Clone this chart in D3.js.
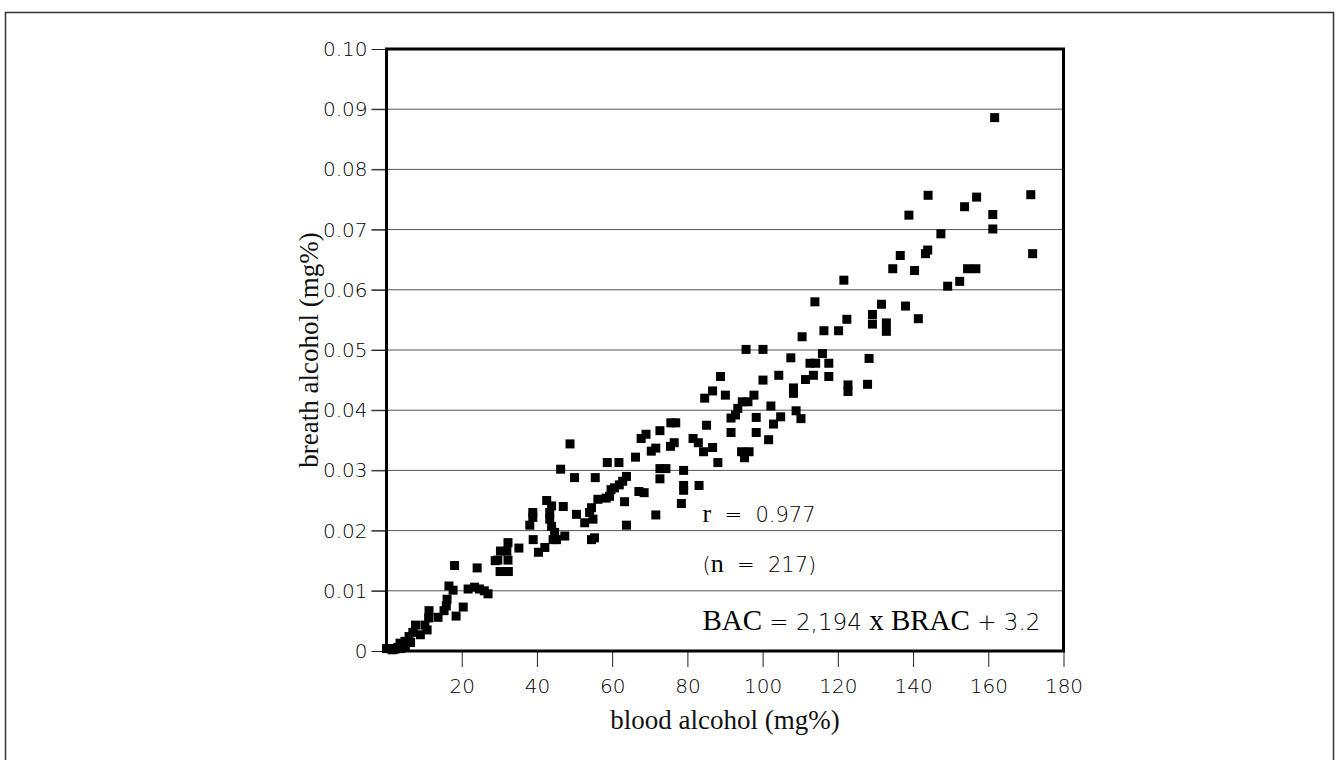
<!DOCTYPE html>
<html>
<head>
<meta charset="utf-8">
<script src="https://cdn.jsdelivr.net/npm/d3@7"></script>
<style>
  body { margin: 0; background: #fff; }
  .tick text { font-family: "DejaVu Sans", sans-serif; font-weight: 200; }
</style>
</head>
<body>
<div class="chart"></div>
<script>

// values: blood alcohol (mg%) and breath alcohol (mg%)
var bloodAlcohol = [161.7,144.0,156.9,171.3,153.7,138.9,161.2,161.2,147.4,143.9,
  143.3,136.6,171.8,134.6,140.4,154.5,156.7,152.4,149.2,121.6,
  113.9,131.6,138.0,129.2,129.2,132.9,132.9,141.4,122.4,110.5,
  116.3,120.2,95.6,100.1,107.5,112.6,114.1,115.9,117.6,128.3,
  127.9,88.8,100.1,104.3,111.4,113.5,117.6,122.7,122.7,108.2,
  108.2,90.1,97.7,94.6,96.1,93.4,102.2,108.9,110.2,91.6,
  92.8,98.3,104.8,102.9,91.6,98.3,101.6,94.4,96.4,95.2,
  88.1,86.7,84.6,85.1,75.6,76.9,72.7,69.0,67.7,70.4,
  71.6,75.5,76.5,81.5,82.9,84.3,86.7,79.0,72.7,74.3,
  72.7,79.0,79.0,83.1,68.5,67.1,78.4,71.6,48.8,46.3,
  50.0,55.5,58.7,61.8,66.2,63.8,62.8,61.9,60.6,59.7,
  63.3,63.8,58.4,59.3,56.2,54.5,54.0,54.9,52.7,50.5,
  47.0,42.6,43.9,43.4,43.4,43.9,44.7,44.3,42.1,40.4,
  45.2,47.4,54.5,55.3,38.9,38.9,38.1,39.0,32.3,
  35.2,30.3,32.0,29.6,32.3,28.9,30.2,32.4,24.1,18.1,
  16.6,17.7,21.7,23.4,24.7,26.0,27.0,16.1,15.9,20.4,
  18.5,15.3,13.7,11.3,11.2,10.2,7.7,10.8,7.0,6.0,
  4.9,3.6,6.4,0.9,2.2,3.8,0.0,1.5,5.0,9.0,3.0];

var breathAlcohol = [0.0886,0.0757,0.0754,0.0758,0.0738,0.0724,0.0725,0.0701,0.0693,0.0666,
  0.0660,0.0657,0.0660,0.0635,0.0632,0.0635,0.0635,0.0614,0.0606,0.0616,
  0.0580,0.0576,0.0573,0.0559,0.0543,0.0545,0.0531,0.0552,0.0551,0.0522,
  0.0532,0.0532,0.0501,0.0501,0.0487,0.0478,0.0478,0.0494,0.0478,0.0486,
  0.0443,0.0456,0.0450,0.0458,0.0451,0.0458,0.0456,0.0442,0.0431,0.0437,
  0.0428,0.0425,0.0425,0.0414,0.0414,0.0403,0.0407,0.0399,0.0386,0.0387,
  0.0392,0.0388,0.0389,0.0377,0.0363,0.0363,0.0351,0.0331,0.0331,0.0321,
  0.0313,0.0432,0.0420,0.0375,0.0379,0.0379,0.0366,0.0360,0.0353,0.0332,
  0.0337,0.0340,0.0346,0.0353,0.0346,0.0331,0.0338,0.0300,0.0303,0.0303,
  0.0286,0.0275,0.0267,0.0275,0.0263,0.0265,0.0245,0.0226,0.0344,0.0302,
  0.0288,0.0288,0.0313,0.0313,0.0322,0.0290,0.0282,0.0276,0.0271,0.0268,
  0.0248,0.0209,0.0254,0.0257,0.0252,0.0238,0.0230,0.0219,0.0213,0.0227,
  0.0240,0.0250,0.0241,0.0230,0.0219,0.0207,0.0197,0.0185,0.0172,0.0164,
  0.0185,0.0191,0.0185,0.0188,0.0230,0.0222,0.0209,0.0185,0.0180,
  0.0171,0.0166,0.0166,0.0151,0.0151,0.0150,0.0132,0.0132,0.0138,0.0142,
  0.0108,0.0101,0.0103,0.0106,0.0103,0.0100,0.0095,0.0086,0.0075,0.0073,
  0.0058,0.0067,0.0056,0.0067,0.0055,0.0043,0.0043,0.0035,0.0031,0.0024,
  0.0016,0.0013,0.0014,0.0004,0.0003,0.0004,0.0004,0.0002,0.0008,0.0027,0.0006];

var xTicks = [20,40,60,80,100,120,140,160,180];
var yTicks = [0,0.01,0.02,0.03,0.04,0.05,0.06,0.07,0.08,0.09,0.10];
var yTickLabels = ['0','0.01','0.02','0.03','0.04','0.05','0.06','0.07','0.08','0.09','0.10'];

var width = 1339,
  height = 760;

var svg = d3.select('.chart')
  .append('svg')
  .attr('width', width)
  .attr('height', height);

// outer frame round the figure
svg.append('rect')
  .attr('x', 5.5).attr('y', 12.5)
  .attr('width', 1328).attr('height', 800)
  .attr('fill', 'none')
  .attr('stroke', '#333')
  .attr('stroke-width', 1.5);

//SCALES
var xScale = d3.scaleLinear().domain([0, 180]).range([386.5, 1063.5]);
var yScale = d3.scaleLinear().domain([0, 0.10]).range([651, 49]);

//GRID (runs from the tick start to the right edge)
svg.selectAll('.grid')
  .data(yTicks.slice(1, -1))
  .enter()
  .append('line')
  .attr('class', 'grid')
  .attr('x1', xScale(0) - 15)
  .attr('x2', xScale(180))
  .attr('y1', function(d) { return yScale(d); })
  .attr('y2', function(d) { return yScale(d); })
  .attr('stroke', '#555')
  .attr('stroke-width', 1);

//AXES
var xAxis = d3.axisBottom(xScale)
  .tickValues(xTicks)
  .tickSize(16)
  .tickPadding(12)
  .tickFormat(d3.format('d'));

var yAxis = d3.axisLeft(yScale)
  .tickValues(yTicks)
  .tickSize(15)
  .tickPadding(4)
  .tickFormat(function(d, i) { return yTickLabels[i]; });

var xAxisG = svg.append('g')
  .attr('transform', 'translate(0,' + yScale(0) + ')')
  .call(xAxis);
xAxisG.select('.domain').remove();
xAxisG.selectAll('.tick line').attr('stroke', '#222').attr('stroke-width', 1);
xAxisG.selectAll('.tick text').attr('font-size', 20).attr('fill', '#000');

var yAxisG = svg.append('g')
  .attr('transform', 'translate(' + xScale(0) + ',0)')
  .call(yAxis);
yAxisG.select('.domain').remove();
yAxisG.selectAll('.tick line').attr('stroke', '#222').attr('stroke-width', 1);
yAxisG.selectAll('.tick text').attr('font-size', 20).attr('fill', '#000');

//POINTS
var pts = bloodAlcohol.map(function(b, i) { return { x: b, y: breathAlcohol[i] }; });
var s = 9;
svg.selectAll('.pt')
  .data(pts)
  .enter()
  .append('rect')
  .attr('class', 'pt')
  .attr('x', function(d) { return xScale(d.x) - s / 2; })
  .attr('y', function(d) { return yScale(d.y) - s / 2; })
  .attr('width', s)
  .attr('height', s)
  .attr('fill', '#000');

//PLOT BOX
svg.append('rect')
  .attr('x', xScale(0)).attr('y', yScale(0.10))
  .attr('width', xScale(180) - xScale(0))
  .attr('height', yScale(0) - yScale(0.10))
  .attr('fill', 'none')
  .attr('stroke', '#000')
  .attr('stroke-width', 3);

//AXIS TITLES
svg.append('text')
  .attr('x', (xScale(0) + xScale(180)) / 2)
  .attr('y', 729)
  .attr('text-anchor', 'middle')
  .attr('font-family', '"Liberation Serif", serif')
  .attr('font-size', 27)
  .attr('fill', '#111')
  .text('blood alcohol (mg%)');

svg.append('text')
  .attr('transform', 'translate(318,' + yScale(0.05) + ') rotate(-90)')
  .attr('text-anchor', 'middle')
  .attr('font-family', '"Liberation Serif", serif')
  .attr('font-size', 27)
  .attr('fill', '#111')
  .text('breath alcohol (mg%)');

//ANNOTATIONS
function note(y, parts, sizes) {
  var t = svg.append('text')
    .attr('x', xScale(84))
    .attr('y', yScale(y))
    .attr('fill', '#000')
    .attr('xml:space', 'preserve');
  parts.forEach(function(p) {
    t.append('tspan')
      .attr('font-family', p[1] ? '"Liberation Serif", serif' : '"DejaVu Sans", sans-serif')
      .attr('font-weight', p[1] ? 400 : 200)
      .attr('font-size', p[1] ? sizes[1] : sizes[0])
      .text(p[0]);
  });
}

note(0.0215, [['r', 1], ['  =  0.977', 0]], [21, 26]);
note(0.0132, [['(', 0], ['n', 1], ['  =  217)', 0]], [21, 26]);
note(0.0035, [['BAC', 1], [' = 2,194 ', 0], ['x', 1], [' ', 0], ['BRAC', 1], [' + 3.2', 0]], [23, 29]);

</script>
</body>
</html>
